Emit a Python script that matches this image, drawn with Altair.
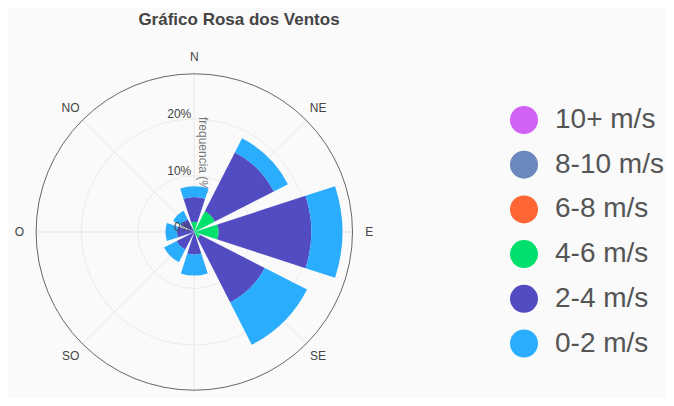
import altair as alt
import numpy as np
import pandas as pd

FONT = "Liberation Sans"

directions = ["N", "NE", "E", "SE", "S", "SO", "O", "NO"]
dir_angles = [0, 45, 90, 135, 180, 225, 270, 315]

speed_bins = ["10+ m/s", "8-10 m/s", "6-8 m/s", "4-6 m/s", "2-4 m/s", "0-2 m/s"]
speed_colors = ["#cf62f5", "#6a88bb", "#ff6633", "#00e06c", "#524cc2", "#29adfc"]

# frequency (%) per direction, per speed bin (stacked from centre outwards: 10+ first)
freq_10p = [0, 0, 0, 0, 0, 0, 0, 0]
freq_8_10 = [0, 0, 0, 0, 0, 0, 0, 0]
freq_6_8 = [0, 0, 0, 0, 0, 0, 0, 0]
freq_4_6 = [1.8, 4.1, 4.3, 1.2, 0, 0, 0, 0]
freq_2_4 = [4.4, 11.7, 16.4, 12.8, 4.0, 3.5, 3.1, 2.6]
freq_0_2 = [1.9, 2.8, 5.5, 8.4, 3.7, 2.5, 2.0, 1.6]

ring_values = [10, 20]
tick_values = [0, 10, 20]
tick_labels = ["0%", "10%", "20%"]

series = [freq_10p, freq_8_10, freq_6_8, freq_4_6, freq_2_4, freq_0_2]
BAR_W = 36
rows = []
cum = [0.0] * len(directions)
for name, vals in zip(speed_bins, series):
    for i, (d, a) in enumerate(zip(directions, dir_angles)):
        rows.append({"dir": d, "speed": name, "t0": a - BAR_W / 2, "t1": a + BAR_W / 2,
                     "r0": cum[i], "r1": cum[i] + vals[i], "freq": vals[i]})
        cum[i] += vals[i]
bars_df = pd.DataFrame(rows)

CX, CY = 186.3, 224
R_OUT = 158.2
theta_scale = alt.Scale(domain=[0, 360], range=[0, 2 * np.pi])
r_scale = alt.Scale(type="linear", domain=[0, 28], range=[0, R_OUT], zero=True)
cx, cy = alt.value(CX), alt.value(CY)

rings = alt.Chart(pd.DataFrame({"r": ring_values})).mark_arc(
    theta=0, theta2=2 * np.pi, fillOpacity=0, stroke="#ebebeb", strokeWidth=1
).encode(radius=alt.Radius("r:Q", scale=r_scale, stack=False), x=cx, y=cy)

spokes = alt.Chart(pd.DataFrame({"angle": dir_angles})).mark_arc(
    fillOpacity=0, stroke="#ebebeb", strokeWidth=1
).encode(
    theta=alt.Theta("angle:Q", scale=theta_scale, stack=False),
    theta2="angle:Q",
    radius=alt.value(R_OUT), x=cx, y=cy,
)

outer = alt.Chart(pd.DataFrame({"r": [28]})).mark_arc(
    theta=0, theta2=2 * np.pi, fillOpacity=0, stroke="#555555", strokeWidth=0.9
).encode(radius=alt.Radius("r:Q", scale=r_scale, stack=False), x=cx, y=cy)

axis_title = alt.Chart(pd.DataFrame({"t": ["frequencia (%)"]})).mark_text(
    angle=90, align="center", baseline="bottom", dy=-2, fontSize=12, font=FONT, color="#777777"
).encode(theta=alt.value(0), radius=alt.value(76), text="t:N", x=cx, y=cy)

bars = alt.Chart(bars_df).mark_arc(strokeWidth=0).encode(
    theta=alt.Theta("t0:Q", scale=theta_scale, stack=False),
    theta2="t1:Q",
    radius=alt.Radius("r1:Q", scale=r_scale, stack=False),
    radius2="r0:Q",
    color=alt.Color(
        "speed:N",
        scale=alt.Scale(domain=speed_bins, range=speed_colors),
        legend=alt.Legend(
            title=None, orient="none", legendX=502, legendY=98,
            symbolType="circle", symbolSize=784, symbolStrokeWidth=0, symbolOpacity=1,
            labelFontSize=28, labelFont=FONT, labelColor="#555555", labelOffset=17,
            rowPadding=16.7, padding=0,
        ),
    ),
    x=cx, y=cy,
)

ticks = alt.Chart(pd.DataFrame({"r": tick_values, "label": tick_labels})).mark_text(
    align="right", baseline="bottom", dx=-3, dy=2, fontSize=12, font=FONT, color="#444444"
).encode(theta=alt.value(0), radius=alt.Radius("r:Q", scale=r_scale, stack=False),
         text="label:N", x=cx, y=cy)

dir_labels = alt.Chart(pd.DataFrame({"dir": directions, "angle": dir_angles})).mark_text(
    align="center", baseline="middle", fontSize=12, font=FONT, color="#444444"
).encode(
    theta=alt.Theta("angle:Q", scale=theta_scale, stack=False),
    radius=alt.value(175), text="dir:N", x=cx, y=cy,
)

title = alt.Chart(pd.DataFrame({"t": ["Gráfico Rosa dos Ventos"]})).mark_text(
    align="center", baseline="middle", fontSize=17, fontWeight="bold", font=FONT, color="#444444"
).encode(text="t:N", x=alt.value(231), y=alt.value(12))

chart = alt.layer(rings, spokes, outer, axis_title, bars, ticks, dir_labels, title).properties(
    width=658, height=390, background="#fafafa", padding=0, autosize="none"
).configure_view(strokeWidth=0)

chart.save("out.html", embed_options={"renderer": "svg", "actions": False})
